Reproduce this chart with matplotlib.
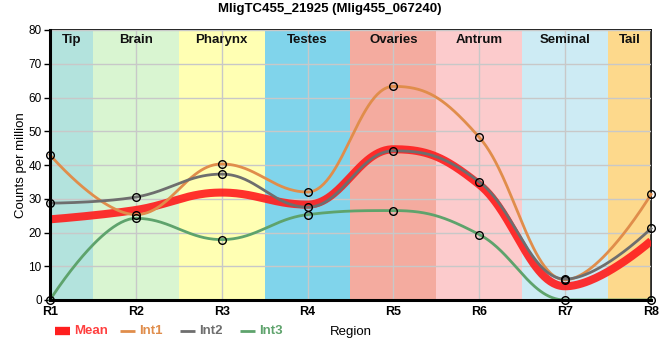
import numpy as np
import matplotlib
matplotlib.use("Agg")
import matplotlib.pyplot as plt
from matplotlib.lines import Line2D

plt.rcParams["font.family"] = ["Liberation Sans", "DejaVu Sans"]

title = "MligTC455_21925 (Mlig455_067240)"
x_labels = ["R1", "R2", "R3", "R4", "R5", "R6", "R7", "R8"]
regions = ["Tip", "Brain", "Pharynx", "Testes", "Ovaries", "Antrum", "Seminal", "Tail"]
region_colors = ["#b3e3dd", "#d9f5d1", "#ffffb3", "#80d4eb", "#f4ab9f", "#fccbcc", "#cdebf4", "#fdd98c"]
int1 = [43.0, 25.3, 40.3, 32.0, 63.3, 48.2, 6.0, 31.3]
int2 = [28.7, 30.5, 37.3, 27.5, 44.2, 35.0, 6.2, 21.2]
int3 = [0.0, 24.2, 17.9, 25.3, 26.5, 19.4, 0.0, 0.0]
mean = list(np.mean([int1, int2, int3], axis=0))


def spline(xs, ys, n=60, smoothing=1.5):
    xs = np.asarray(xs, float); ys = np.asarray(ys, float)
    m = len(xs)
    denom = smoothing + 1
    lcx, lcy = xs.copy(), ys.copy()
    rcx, rcy = xs.copy(), ys.copy()
    for i in range(1, m - 1):
        px, py = xs[i], ys[i]
        lx, ly, nx, ny = xs[i - 1], ys[i - 1], xs[i + 1], ys[i + 1]
        lX = (smoothing * px + lx) / denom
        lY = (smoothing * py + ly) / denom
        rX = (smoothing * px + nx) / denom
        rY = (smoothing * py + ny) / denom
        corr = (rY - lY) * (rX - px) / (rX - lX) + py - rY
        lY += corr; rY += corr
        if lY > ly and lY > py:
            lY = max(ly, py); rY = 2 * py - lY
        elif lY < ly and lY < py:
            lY = min(ly, py); rY = 2 * py - lY
        if rY > ny and rY > py:
            rY = max(ny, py); lY = 2 * py - rY
        elif rY < ny and rY < py:
            rY = min(ny, py); lY = 2 * py - rY
        lcx[i], lcy[i], rcx[i], rcy[i] = lX, lY, rX, rY
    X, Y = [], []
    u = np.linspace(0, 1, n)
    b = [(1 - u) ** 3, 3 * (1 - u) ** 2 * u, 3 * (1 - u) * u ** 2, u ** 3]
    for i in range(m - 1):
        P = [(xs[i], ys[i]), (rcx[i], rcy[i]), (lcx[i + 1], lcy[i + 1]), (xs[i + 1], ys[i + 1])]
        X.append(sum(b[k] * P[k][0] for k in range(4)))
        Y.append(sum(b[k] * P[k][1] for k in range(4)))
    return np.concatenate(X), np.concatenate(Y)


W, H = 660, 360
fig = plt.figure(figsize=(W / 100, H / 100), dpi=100)
ax = fig.add_axes([50 / W, 60 / H, 601 / W, 270 / H])
xs = np.arange(len(x_labels))

for i, (name, c) in enumerate(zip(regions, region_colors)):
    lo = max(i - 0.5, 0); hi = min(i + 0.5, len(x_labels) - 1)
    ax.axvspan(lo, hi, color=c, zorder=0, lw=0)
    ax.text((lo + hi) / 2, 77.0, name, ha="center", va="center", fontsize=9.5,
            fontweight="bold", color="#111111", zorder=5)

ax.set_xlim(0, len(x_labels) - 1)
ax.set_ylim(0, 80)
ax.set_yticks(range(0, 81, 10))
ax.set_xticks(xs)
ax.set_xticklabels(x_labels, fontweight="bold", fontsize=9)
ax.tick_params(axis="y", labelsize=8.5, length=4, width=1, pad=2)
ax.tick_params(axis="x", length=0, pad=4)
ax.grid(True, color="#c8c8c8", lw=1, zorder=1)
ax.set_axisbelow(False)
for sp in ["left", "bottom"]:
    ax.spines[sp].set_linewidth(2.2)
    ax.spines[sp].set_zorder(7)
for sp in ["top", "right"]:
    ax.spines[sp].set_linewidth(1.2)

colors = {"Int1": "#e08d4b", "Int2": "#6e6e6e", "Int3": "#5ea36c"}
mean_color = "#ff1f1f"
mx, my = spline(xs, mean)
ax.plot(mx, my, color=mean_color, lw=5.8, alpha=0.92, zorder=3, solid_capstyle="butt")
for name, vals in [("Int1", int1), ("Int2", int2), ("Int3", int3)]:
    cx, cy = spline(xs, vals)
    ax.plot(cx, cy, color=colors[name], lw=2, zorder=4, clip_on=False)
    ax.plot(xs, vals, "o", ms=5.5, mfc="none", mec="black", mew=1, zorder=8, clip_on=False)

ax.set_ylabel("Counts per million", fontsize=9.5)
ax.yaxis.set_label_coords((27 - 50) / 601, 0.5)
fig.text(0.5, 1 - 9 / H, title, ha="center", va="center", fontsize=9.5, fontweight="bold")

# legend
ly = 1 - 331 / H
entries = [("Mean", mean_color, 6, 55, "#ff4040"),
           ("Int1", colors["Int1"], 2, 120, colors["Int1"]),
           ("Int2", colors["Int2"], 2, 180, colors["Int2"]),
           ("Int3", colors["Int3"], 2, 240, colors["Int3"])]
for label, c, lw, x0, tc in entries:
    fig.add_artist(Line2D([x0 / W, (x0 + 15) / W], [ly, ly], color=c, lw=lw,
                          transform=fig.transFigure, solid_capstyle="butt"))
    fig.text((x0 + 19) / W, ly, label, ha="left", va="center", fontsize=9.5,
             fontweight="bold", color=tc)
fig.text(351 / W, 1 - 332 / H, "Region", ha="center", va="center", fontsize=9.5)

fig.savefig("out.png", dpi=100)
